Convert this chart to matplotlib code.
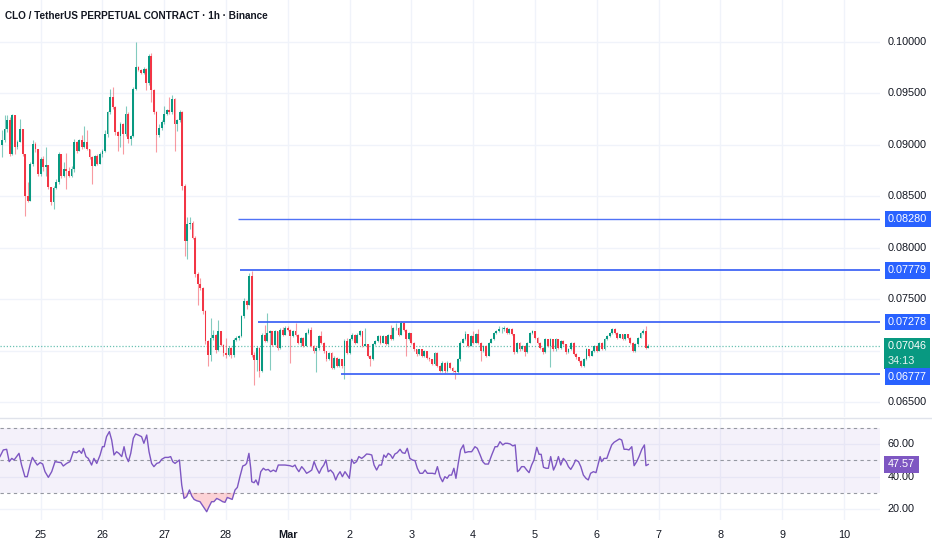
import matplotlib.pyplot as plt
import matplotlib.transforms as mtransforms
from matplotlib.lines import Line2D
from matplotlib.patches import Rectangle
import numpy as np

plt.rcParams['font.family'] = ['Liberation Sans', 'DejaVu Sans']

# hourly candles, first one opens Feb 24 09:00 ; prices in 1e-5 USDT
first_open = 8994
closes = np.array([
    9043, 9157, 9238, 8912, 9287, 8978, 9026, 9157, 8912, 8506,
    8457, 8815, 9010, 8960, 8720, 8864, 8782, 8800, 8587, 8440,
    8580, 8640, 8912, 8701, 8766, 8750, 8701, 8766, 9026, 8945,
    9043, 8980, 9026, 8961, 8880, 8799, 8896, 8815, 8912, 8945,
    9110, 9319, 9466, 9368, 9124, 9090, 9200, 9110, 9300, 9060,
    9090, 9547, 9759, 9730, 9700, 9740, 9600, 9860, 9531, 9320,
    9100, 9160, 9220, 9300, 9340, 9319, 9450, 9206, 9238, 9320,
    8603, 8066, 8229, 8245, 8099, 7741, 7643, 7611, 7383, 7090,
    6960, 7122, 7155, 7008, 7187, 7057, 6976, 6960, 7025, 6960,
    7106, 7122, 7139, 7334, 7480, 7448, 7724, 6960, 6911, 7025,
    6797, 7155, 7090, 7171, 7187, 7057, 7187, 7025, 7204,
    7156, 7220, 7204, 7140, 7188, 7156, 7076, 7124, 7044, 7172,
    7204, 7044, 6996, 7028, 7140, 7076, 6996, 6916, 6980, 6835,
    6932, 6851, 6916, 6851, 7092, 6980, 7108, 7156, 7076, 7156,
    7188, 7044, 7060, 6948, 6916, 7060, 7092, 7140, 7076, 7140,
    7060, 7156, 7108, 7220, 7220, 7156, 7269, 7204, 7108, 7172,
    7076, 7012, 6964, 7012, 6948, 6996, 6932, 6916, 6867, 6980,
    6851, 6803, 6883, 6803, 6883, 6835, 6803, 6787, 6916, 7077,
    7109, 7157, 7045, 7141, 7077, 7157, 7077, 6998, 7045, 6950,
    7077, 7109, 7173, 7189, 7205, 7211, 7220, 7173, 7211, 7157,
    6982, 7077, 7013, 7045, 6982, 7077, 7173, 7189, 7125, 7077,
    7029, 6982, 7109, 7045, 7109, 7013, 7109, 7029, 7093, 7061,
    6982, 7013, 7077, 6966, 6934, 6902, 6854, 6918, 7013, 6950,
    6998, 7045, 6998, 7077, 7013, 7109, 7141, 7173, 7205, 7173,
    7125, 7157, 7109, 7157, 7125, 7077, 6998, 7061, 7125, 7173,
    7189, 7029, 7046,
])
highs = np.array([
    9140, 9287, 9287, 9270, 9300, 9290, 9043, 9254, 9157, 8912,
    8636, 8830, 9050, 9026, 8961, 8880, 8896, 8980, 8782, 8587,
    8600, 8670, 8930, 8912, 8830, 8920, 8782, 8799, 9060, 9040,
    9060, 9091, 9180, 9140, 8961, 8896, 8900, 8910, 8930, 8961,
    9140, 9330, 9547, 9560, 9380, 9130, 9220, 9210, 9380, 9319,
    9100, 9560, 10003, 9770, 9740, 9760, 9745, 9880, 9889, 9540,
    9330, 9200, 9240, 9380, 9350, 9470, 9480, 9460, 9250, 9336,
    9330, 8620, 8294, 8294, 8260, 8110, 7760, 7708, 7620, 7390,
    7100, 7318, 7200, 7160, 7301, 7190, 7060, 7120, 7040, 7030,
    7120, 7140, 7150, 7350, 7513, 7490, 7757, 7773, 6990, 7040,
    7030, 7170, 7252, 7366, 7200, 7190, 7200, 7190, 7220,
    7230, 7240, 7235, 7210, 7200, 7269, 7160, 7135, 7130, 7185,
    7220, 7230, 7050, 7040, 7150, 7188, 7080, 7000, 6990, 6985,
    6945, 6940, 6925, 6920, 7110, 7124, 7120, 7170, 7160, 7170,
    7200, 7190, 7220, 7065, 6960, 7070, 7105, 7150, 7150, 7150,
    7145, 7165, 7253, 7230, 7269, 7225, 7285, 7275, 7210, 7180,
    7175, 7080, 7015, 7020, 7015, 7005, 7000, 6935, 6920, 6990,
    6985, 6855, 6895, 6885, 6895, 6890, 6840, 6810, 6925, 7090,
    7120, 7189, 7160, 7150, 7189, 7170, 7205, 7080, 7055, 7050,
    7085, 7120, 7180, 7200, 7237, 7225, 7237, 7225, 7220, 7215,
    7165, 7085, 7085, 7055, 7050, 7085, 7185, 7200, 7195, 7130,
    7085, 7035, 7120, 7115, 7120, 7115, 7120, 7115, 7105, 7100,
    7065, 7025, 7085, 7080, 6975, 6940, 6910, 6930, 7025, 7020,
    7010, 7055, 7050, 7085, 7080, 7120, 7150, 7185, 7220, 7215,
    7180, 7165, 7160, 7165, 7160, 7130, 7080, 7070, 7135, 7185,
    7205, 7237, 7060,
])
lows = np.array([
    8880, 9026, 9124, 8896, 8900, 8912, 8961, 9026, 8896, 8310,
    8440, 8450, 8799, 8930, 8700, 8701, 8750, 8701, 8570, 8420,
    8375, 8570, 8620, 8680, 8690, 8570, 8690, 8690, 8733, 8920,
    8940, 8960, 8970, 8950, 8860, 8620, 8790, 8800, 8810, 8880,
    8930, 9080, 9300, 9350, 9100, 8940, 8980, 8912, 9090, 9020,
    9000, 9080, 9531, 9720, 9690, 9690, 9531, 9580, 9420, 9300,
    8930, 9080, 9140, 9200, 9290, 9300, 9300, 8945, 9130, 9220,
    8560, 7920, 7887, 8180, 8080, 7720, 7448, 7590, 7360, 7060,
    6846, 6900, 7100, 6980, 7000, 7040, 6950, 6930, 6950, 6930,
    6940, 7090, 7100, 7130, 7320, 7400, 7440, 6940, 6667, 6797,
    6748, 6790, 7080, 7080, 6813, 7040, 7050, 7010, 7020,
    7140, 7150, 7190, 6883, 7130, 7140, 7060, 7040, 7030, 7040,
    7165, 7030, 6980, 6787, 7010, 7060, 6980, 6900, 6905, 6820,
    6820, 6840, 6840, 6835, 6723, 6970, 6970, 7100, 7060, 7070,
    7140, 7030, 7040, 6940, 6850, 6910, 7050, 7085, 7065, 7070,
    7050, 7055, 7100, 7100, 7200, 7140, 7150, 7195, 6950, 7100,
    7065, 7000, 6950, 6955, 6935, 6940, 6920, 6900, 6855, 6860,
    6840, 6790, 6795, 6785, 6795, 6825, 6790, 6723, 6780, 6900,
    7070, 7100, 7030, 7040, 7065, 7070, 7065, 6902, 6990, 6940,
    6945, 7070, 7100, 7165, 7180, 7170, 7195, 7165, 7165, 7150,
    6970, 6975, 7000, 7005, 6950, 6975, 7070, 7160, 7115, 7065,
    7015, 6970, 6975, 7035, 6838, 7000, 7000, 7020, 7020, 7050,
    6970, 6975, 7005, 6955, 6920, 6890, 6840, 6845, 6910, 6940,
    6945, 6990, 6990, 6995, 7005, 7010, 7100, 7130, 7165, 7165,
    7115, 7120, 7100, 7105, 7115, 7065, 6985, 6990, 7055, 7120,
    7165, 7020, 7025,
])

# RSI(14): hour offset from Feb 24 09:00, value
rsi_hours = [
    -0.8, 0.5, 1.8, 2.8, 3.8, 4.7, 5.7, 6.6, 7.6, 8.9, 9.8, 10.9, 11.8, 12.8, 13.7,
    14.8, 15.8, 16.7, 18.0, 19.3, 20.6, 21.9, 22.9, 23.8, 25.1, 26.4, 27.7, 29.0,
    30.0, 30.9, 31.6, 32.6, 33.5, 34.8, 35.7, 36.8, 38.1, 39.0, 39.7, 40.6, 41.7,
    42.6, 43.5, 44.5, 45.4, 46.5, 47.4, 48.2, 49.1, 50.0, 51.0, 51.9, 52.9, 54.2,
    55.1, 56.2, 57.1, 58.1, 59.0, 60.1, 61.1, 62.0, 63.3, 64.6, 65.5, 66.3, 67.2,
    68.1, 68.9, 69.8, 70.7, 71.7, 72.8, 73.7, 74.6, 75.6, 76.9, 78.2, 79.5, 80.4,
    81.4, 82.3, 83.4, 84.7, 85.7, 86.6, 87.5, 88.5, 89.4, 90.5, 91.4, 92.4, 93.5,
    94.4, 95.0, 95.9, 96.6, 97.0, 97.9, 98.6, 99.5, 100.5, 101.5, 102.4, 103.4,
    104.3, 105.4, 106.4, 107.3, 108.3, 109.9, 111.8, 112.9, 113.8, 114.4, 115.3,
    116.4, 117.3, 118.3, 119.4, 120.3, 121.2, 122.2, 123.2, 124.1, 125.0, 125.8,
    126.7, 127.6, 128.7, 129.6, 130.4, 131.3, 132.2, 133.2, 134.1, 134.9, 135.8,
    136.7, 137.7, 138.6, 139.7, 140.6, 141.6, 142.7, 143.6, 144.5, 145.5, 146.5,
    147.4, 148.3, 149.1, 150.0, 150.9, 151.7, 152.6, 153.5, 154.6, 155.5, 156.5,
    157.4, 158.4, 159.4, 160.4, 161.3, 162.3, 163.4, 164.3, 165.2, 166.2, 167.2,
    168.2, 169.1, 170.1, 171.1, 172.0, 172.9, 173.7, 174.6, 175.5, 176.3, 177.2,
    178.1, 179.2, 179.8, 181.1, 182.4, 183.7, 184.6, 185.7, 186.7, 187.6, 188.9,
    190.2, 191.5, 192.4, 193.4, 194.5, 195.4, 196.3, 197.3, 198.4, 199.3, 200.2,
    200.9, 201.8, 202.8, 203.8, 204.7, 205.7, 206.6, 207.7, 208.6, 209.4, 210.3,
    211.3, 212.2, 213.1, 214.2, 215.1, 216.1, 217.0, 218.0, 219.1, 220.0, 220.9,
    221.9, 222.8, 223.9, 224.8, 225.8, 226.8, 227.7, 228.6, 229.7, 230.7, 231.6,
    232.3, 232.9, 233.8, 234.9, 235.8, 236.8, 237.7, 238.7, 239.8, 240.7, 241.6,
    242.6, 243.5, 244.6, 245.5, 246.5, 247.4, 248.5, 249.5, 250.1, 251.0,
]
rsi_values = [
    52.4, 56.5, 56.9, 49.3, 51.3, 50.3, 52.4, 54.4, 47.2, 40.0, 40.0, 47.2, 51.9, 49.3, 47.2,
    48.7, 47.8, 43.1, 39.6, 43.1, 49.3, 48.9, 48.7, 46.6, 48.2, 49.3, 55.4, 54.8,
    56.1, 54.4, 57.5, 52.4, 51.3, 47.2, 51.3, 48.2, 53.4, 58.5, 58.5, 64.7, 67.8,
    62.6, 53.4, 55.4, 54.4, 52.4, 58.5, 52.4, 49.3, 54.4, 63.7, 66.4, 65.7, 64.7,
    60.6, 65.7, 55.4, 48.2, 46.2, 48.2, 48.7, 50.7, 51.9, 51.9, 52.4, 49.3, 48.2,
    49.3, 50.3, 34.9, 26.6, 27.7, 31.8, 28.1, 26.0, 25.2, 24.6, 21.5, 18.4, 21.5,
    24.6, 24.6, 26.6, 25.6, 24.6, 24.2, 27.2, 26.6, 26.0, 31.8, 33.4, 40.0, 46.6,
    47.2, 48.2, 54.4, 45.2, 36.9, 36.3, 38.0, 34.9, 43.1, 45.2, 44.1, 44.5,
    43.1, 44.1, 43.1, 47.2, 47.2, 47.2, 46.8, 46.2, 47.2, 45.2, 43.1,
    46.2, 44.5, 42.1, 43.1, 44.1, 49.3, 45.2, 42.1, 45.2, 47.2, 50.3,
    43.1, 44.1, 42.1, 38.0, 41.0, 43.1, 40.0, 43.1, 41.0, 39.0, 50.7,
    48.2, 49.3, 52.4, 51.3, 52.4, 54.0, 53.8, 53.4, 47.2, 44.1, 47.2,
    47.2, 53.4, 51.9, 54.4, 53.4, 51.3, 54.0, 54.8, 56.9, 54.8, 54.4,
    57.5, 51.3, 50.3, 49.9, 45.2, 42.1, 42.1, 44.1, 42.1, 42.1, 42.1,
    41.7, 46.2, 40.0, 36.9, 40.0, 39.0, 41.0, 41.0, 45.2, 39.0, 48.2,
    56.5, 59.6, 54.8, 55.4, 55.4, 58.5, 57.5, 53.4, 49.3, 47.8, 47.8,
    53.4, 58.5, 58.5, 61.6, 59.6, 60.6, 60.6, 60.2, 59.0, 59.6, 43.1,
    44.1, 46.2, 46.2, 44.1, 42.5, 47.2, 50.3, 58.1, 53.8, 53.8, 45.8,
    45.2, 45.2, 52.4, 44.1, 47.2, 52.4, 47.2, 51.3, 49.3, 46.2, 44.5,
    47.2, 50.3, 49.3, 46.2, 41.0, 39.0, 38.0, 42.1, 43.1, 42.5, 48.2,
    52.4, 49.3, 51.3, 51.3, 55.4, 59.6, 61.2, 62.2, 63.3, 62.6, 56.9,
    56.9, 56.5, 58.5, 46.8, 49.3, 52.4, 56.9, 59.6, 46.8, 47.57,
]

# horizontal levels drawn on the chart: price, hour where the line starts
level_prices = [0.08280, 0.07779, 0.07278, 0.06777]
level_start = [91.5, 92.4, 99.5, 131.7]
last_price = 0.07046
countdown = '34:13'

price_ticks = [0.065, 0.070, 0.075, 0.080, 0.085, 0.090, 0.095, 0.100]
rsi_ticks = [20, 40, 60]
day_labels = ['25', '26', '27', '28', 'Mar', '2', '3', '4', '5', '6', '7', '8', '9', '10']
day_hours = [15 + 24 * k for k in range(len(day_labels))]  # midnight of each day

green, red = '#089981', '#f23645'
blue, purple = '#2962ff', '#7e57c2'
txt_c, grid_c = '#131722', '#f0f3fa'
fs = 7.8

closes = closes / 1e5
highs = highs / 1e5
lows = lows / 1e5
opens = np.r_[first_open / 1e5, closes[:-1]]
highs = np.maximum(highs, np.maximum(opens, closes))
lows = np.minimum(lows, np.minimum(opens, closes))
hours = np.arange(len(closes))
cols = np.where(closes >= opens, green, red)

W, H = 932, 550
fig = plt.figure(figsize=(W / 100, H / 100), dpi=100)
ax = fig.add_axes([0, 1 - 417 / H, 880 / W, 417 / H])
ax_rsi = fig.add_axes([0, 30 / H, 880 / W, 102 / H])
xlim = (-0.78, 341)

for a in (ax, ax_rsi):
    a.set_xlim(*xlim)
    for s in a.spines.values():
        s.set_visible(False)
    a.set_xticks([])
    a.set_yticks([])
    for d in day_hours:
        a.axvline(d, color=grid_c, lw=1, zorder=0)

# ---- price pane
ax.set_ylim(0.063543, 0.104083)
for p in price_ticks:
    ax.axhline(p, color=grid_c, lw=1, zorder=0)

ax.vlines(hours, lows, highs, colors=cols, lw=0.8, alpha=0.5, zorder=2)
body_lo = np.minimum(opens, closes)
body_h = np.maximum(np.abs(closes - opens), 0.00003)
ax.bar(hours, body_h, bottom=body_lo, width=0.7, color=cols, linewidth=0, zorder=3)

ax.axhline(last_price, color=green, lw=0.9, ls=(0, (1, 1.5)), alpha=0.6, zorder=1)
for lv, st in zip(level_prices, level_start):
    ax.hlines(lv, st, xlim[1], color='#3d63f5', lw=1.0 if lv == level_prices[0] else 1.4,
              alpha=0.9, zorder=4)

lab_x = 888 / W
tr = mtransforms.blended_transform_factory(fig.transFigure, ax.transData)
for p in price_ticks:
    if abs(p - last_price) < 0.0012:   # hidden behind the last price tag
        continue
    ax.text(lab_x, p, f'{p:.5f}', transform=tr, va='center', ha='left',
            fontsize=fs, color=txt_c)

# last price tag: green box with price and bar countdown
tag = Rectangle((884 / W, 1 - 369 / H), 46 / W, 31 / H, transform=fig.transFigure,
                fc=green, ec='none', zorder=5, clip_on=False)
ax.add_patch(tag)
ax.text(lab_x, last_price, f'{last_price:.5f}', transform=tr, va='center', ha='left',
        fontsize=fs, color='white', zorder=6)
ax.text(lab_x, 1 - 360.5 / H, countdown, transform=fig.transFigure, va='center',
        ha='left', fontsize=fs, color='#e6f4f1', zorder=6)

for lv in level_prices:
    shift = -3 if lv == level_prices[-1] else 0
    ax.text(lab_x, lv, f'{lv:.5f}', va='center', ha='left',
            transform=mtransforms.offset_copy(tr, fig=fig, y=shift, units='dots'),
            fontsize=fs, color='white', zorder=7,
            bbox=dict(boxstyle='square,pad=0.3', fc=blue, ec='none'))

fig.text(5 / W, 1 - 16 / H, 'CLO / TetherUS PERPETUAL CONTRACT · 1h · Binance',
         fontsize=7.2, color=txt_c, va='center', ha='left', fontweight='bold')

# ---- RSI pane
ax_rsi.set_ylim(13.3, 76.2)
for r in rsi_ticks:
    ax_rsi.axhline(r, color=grid_c, lw=1, zorder=0)
ax_rsi.axhspan(30, 70, color=purple, alpha=0.08, lw=0, zorder=1)
for r in (30, 50, 70):
    ax_rsi.axhline(r, color='#9598a1', lw=0.8, ls=(0, (3, 3)), zorder=2)
rh = np.array(rsi_hours)
rv = np.array(rsi_values)
ax_rsi.fill_between(rh, rv, 30, where=rv < 30, interpolate=True, color=red,
                    alpha=0.22, lw=0, zorder=2)
ax_rsi.plot(rh, rv, color=purple, lw=1, zorder=3)

tr_r = mtransforms.blended_transform_factory(fig.transFigure, ax_rsi.transData)
for r in rsi_ticks:
    ax_rsi.text(lab_x, r, f'{r:.2f}', transform=tr_r, va='center', ha='left',
                fontsize=fs, color=txt_c)
ax_rsi.text(lab_x, rsi_values[-1], f'{rsi_values[-1]:.2f}', transform=tr_r,
            va='center', ha='left', fontsize=fs, color='white', zorder=5,
            bbox=dict(boxstyle='square,pad=0.35', fc=purple, ec='none'))

fig.add_artist(Line2D([0, 1], [1 - 417.5 / H] * 2, color='#e0e3eb', lw=1))

tr_x = mtransforms.blended_transform_factory(ax_rsi.transData, fig.transFigure)
for d, lab in zip(day_hours, day_labels):
    ax_rsi.text(d, 1 - 535 / H, lab, transform=tr_x, ha='center', va='center',
                fontsize=fs, color=txt_c, fontweight='bold' if lab == 'Mar' else 'normal')

fig.savefig('out.png', dpi=100)
